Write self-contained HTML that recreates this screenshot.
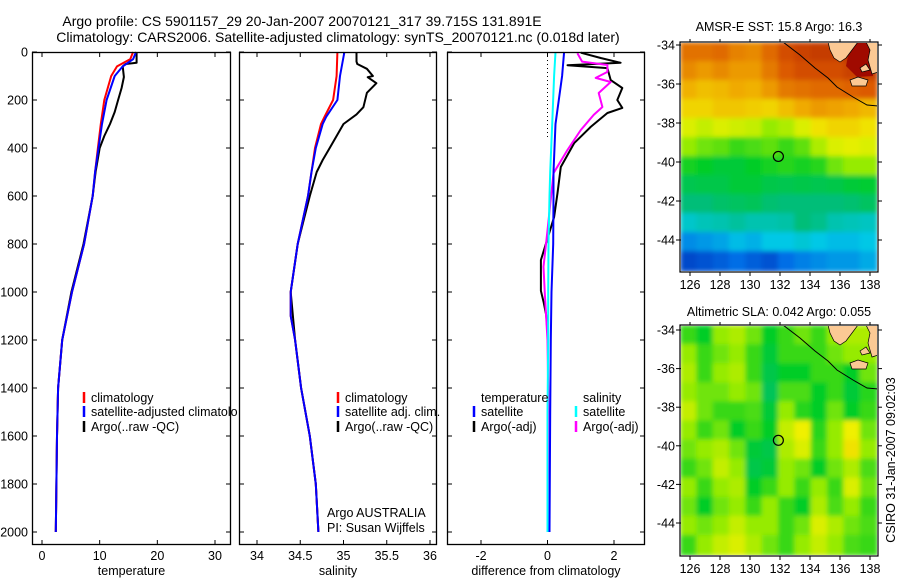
<!DOCTYPE html>
<html><head><meta charset="utf-8">
<style>
html,body{margin:0;padding:0;background:#fff;}
svg{display:block;font-family:"Liberation Sans",sans-serif;}
text{font-size:12.5px;fill:#000;}
.big{font-size:14px;}
</style></head>
<body>
<svg id="chart" width="900" height="580" viewBox="0 0 900 580" xmlns="http://www.w3.org/2000/svg">
<defs>
<clipPath id="cm1"><rect x="681" y="43" width="196" height="228"/></clipPath>
<clipPath id="cm2"><rect x="681" y="326" width="196" height="229"/></clipPath>
<filter id="sm" x="0" y="0" width="1" height="1"><feGaussianBlur stdDeviation="2.5"/></filter>
</defs>
<text class="big" x="302" y="26" text-anchor="middle">Argo profile: CS 5901157_29 20-Jan-2007 20070121_317 39.715S 131.891E</text>
<text class="big" x="338" y="42" text-anchor="middle">Climatology: CARS2006. Satellite-adjusted climatology: synTS_20070121.nc (0.018d later)</text>
<g id="layer"></g>
</svg>
<script>
// ---------- profile data ----------
const tempDepth = [0,30,60,100,200,300,400,500,600,800,1000,1200,1400,1600,1800,2000];
const tempClim  = [15.8,15.3,13,12,10.8,10.2,9.7,9.2,8.8,7.3,5.2,3.5,2.8,2.6,2.5,2.4];
const tempSat   = [16.3,15.8,14,12.6,11.2,10.4,9.8,9.2,8.8,7.3,5.2,3.5,2.8,2.6,2.5,2.4];
const argoTDepth = [0,45,50,60,104,150,200,250,300,350,400,500,600,800,1000,1200,1400,1600,1800,2000];
const argoTemp   = [16.4,16.4,14.5,14,14.2,13.8,13.2,12.6,11.8,10.8,10,9.3,8.8,7.2,5.1,3.5,2.8,2.6,2.5,2.4];

const salDepth = [0,100,200,270,300,400,500,600,800,1000,1100,1200,1400,1600,1800,2000];
const salClim  = [34.93,34.92,34.88,34.78,34.74,34.67,34.63,34.59,34.47,34.39,34.39,34.44,34.51,34.61,34.68,34.71];
const salSat   = [35.01,34.96,34.93,34.8,34.76,34.68,34.63,34.59,34.47,34.39,34.39,34.44,34.51,34.61,34.68,34.71];
const argoSDepth = [0,40,50,70,100,105,130,170,230,260,300,350,400,450,500,600,700,800,1000,1200,1400,1600,1800,2000];
const argoSal    = [35.15,35.15,35.16,35.27,35.34,35.28,35.38,35.27,35.23,35.15,35.0,34.92,34.84,34.76,34.69,34.61,34.54,34.47,34.39,34.44,34.51,34.61,34.68,34.71];

const diffDepth = [0,100,300,500,600,800,1000,1200,1500,2000];
const diffTSat  = [0.5,0.44,0.24,0.18,0.18,0.17,0.12,0.1,0.08,0.06];
const diffSSat  = [0.24,0.2,0.14,0.08,0.06,0.03,0.02,0.02,0.0,0.0];
const diffTArgoDepth = [3,25,45,55,67,117,150,200,233,254,312,380,479,588,688,867,995,1040,1096,1167];
const diffTArgo      = [1.0,1.6,2.2,0.6,1.8,1.9,2.25,2.1,2.25,1.8,1.3,0.8,0.4,0.3,0.2,-0.2,-0.2,-0.12,-0.04,0.0];
const diffSArgoDepth = [5,40,54,83,108,125,171,229,262,325,408,505,755,895,1005,1200,1500,2000];
const diffSArgo      = [0.9,1.04,1.8,1.8,1.45,1.9,1.54,1.65,1.39,1.0,0.6,0.18,-0.01,-0.12,-0.08,0.0,0.03,0.0];

const depthTicks = [0,200,400,600,800,1000,1200,1400,1600,1800,2000];
const tempTicks = [0,10,20,30];
const salTicks = [34,34.5,35,35.5,36];
const salTickLabels = ["34","34.5","35","35.5","36"];
const diffTicks = [-2,0,2];
const lonTicks = [126,128,130,132,134,136,138];
const latTicks = [-34,-36,-38,-40,-42,-44];

// ---------- map data (normalised colour index 0..1) ----------
const sstGrid = [
[0.85,0.85,0.86,0.83,0.82,0.86,0.9,0.92,0.93,0.93,0.95,0.95],
[0.82,0.8,0.82,0.8,0.8,0.84,0.88,0.9,0.9,0.9,0.92,0.93],
[0.77,0.75,0.76,0.78,0.77,0.8,0.84,0.85,0.86,0.86,0.87,0.88],
[0.72,0.72,0.74,0.74,0.73,0.72,0.75,0.78,0.8,0.79,0.78,0.76],
[0.66,0.64,0.66,0.65,0.64,0.6,0.62,0.66,0.7,0.72,0.72,0.7],
[0.6,0.58,0.57,0.55,0.56,0.57,0.55,0.57,0.62,0.66,0.67,0.66],
[0.53,0.52,0.5,0.5,0.52,0.53,0.54,0.53,0.54,0.58,0.6,0.6],
[0.47,0.48,0.48,0.5,0.5,0.48,0.47,0.48,0.47,0.48,0.5,0.51],
[0.42,0.42,0.44,0.45,0.46,0.43,0.42,0.42,0.42,0.42,0.43,0.45],
[0.33,0.35,0.36,0.38,0.36,0.36,0.37,0.42,0.4,0.36,0.35,0.34],
[0.2,0.22,0.24,0.28,0.26,0.3,0.3,0.32,0.3,0.28,0.28,0.3],
[0.08,0.1,0.12,0.15,0.12,0.1,0.15,0.18,0.2,0.22,0.22,0.25]];
const slaGrid = [
[.55,.52,.6,.62,.58,.52,.55,.58,.55,.6,.62,.62],
[.6,.55,.58,.6,.55,.5,.55,.55,.55,.58,.6,.6],
[.62,.55,.6,.62,.55,.48,.52,.52,.55,.55,.52,.58],
[.6,.58,.58,.6,.58,.46,.56,.56,.52,.55,.5,.54],
[.64,.58,.55,.55,.56,.5,.6,.54,.52,.58,.52,.55],
[.6,.55,.58,.52,.55,.52,.64,.68,.54,.6,.68,.58],
[.58,.6,.62,.58,.5,.48,.62,.66,.55,.6,.7,.6],
[.55,.58,.64,.6,.48,.5,.6,.58,.52,.58,.62,.56],
[.6,.55,.6,.62,.52,.55,.6,.55,.6,.55,.66,.58],
[.58,.52,.58,.6,.55,.6,.55,.52,.62,.56,.6,.55],
[.6,.58,.6,.64,.6,.6,.55,.58,.66,.62,.58,.56],
[.55,.6,.64,.66,.62,.58,.55,.6,.64,.6,.56,.55]];
const floatLon = 131.891;
const floatLat = -39.715;

// ---------- helpers ----------
const NS = "http://www.w3.org/2000/svg";
const layer = document.getElementById('layer');
function mk(tag, attrs, parent){
  const e = document.createElementNS(NS, tag);
  for (const k in attrs) e.setAttribute(k, attrs[k]);
  (parent||layer).appendChild(e);
  return e;
}
function txt(x,y,s,anchor,parent){
  const t = mk('text',{x:x,y:y,'text-anchor':anchor||'start'},parent);
  t.textContent = s; return t;
}
const yTop=52, yPerDbar=0.24;
function yD(d){ return yTop + d*yPerDbar; }
function lin(d0,d1,r0,r1){ return v => r0 + (v-d0)/(d1-d0)*(r1-r0); }

const panels = [
  {name:'temperature-panel', x0:32, x1:231, sx:lin(0,30,42,215), ticks:tempTicks, labels:tempTicks.map(String), title:'temperature'},
  {name:'salinity-panel', x0:239, x1:437, sx:lin(34,36,257,430), ticks:salTicks, labels:salTickLabels, title:'salinity'},
  {name:'difference-panel', x0:447, x1:645, sx:lin(-2,2,481,614), ticks:diffTicks, labels:diffTicks.map(String), title:'difference from climatology'}
];
const yB = 545;

function line(g, sx, depths, vals, color, name){
  const pts = depths.map((d,i)=> sx(vals[i]).toFixed(1)+','+yD(d).toFixed(1)).join(' ');
  const p = mk('polyline',{points:pts,fill:'none',stroke:color,'stroke-width':2,'stroke-linejoin':'round'},g);
  
  
}

panels.forEach((P,pi)=>{
  const g = mk('g',{});
  
  
  const bg = mk('rect',{x:P.x0,y:yTop,width:P.x1-P.x0,height:yB-yTop,fill:'#fff',stroke:'none'},g);
  
  
  depthTicks.forEach(d=>{
    mk('line',{x1:P.x0,x2:P.x0+5,y1:yD(d),y2:yD(d),stroke:'#000'},g);
    mk('line',{x1:P.x1,x2:P.x1-5,y1:yD(d),y2:yD(d),stroke:'#000'},g);
    if(pi===0){ const t=txt(28,yD(d)+4.5,String(d),'end',g);
      
       }
  });
  P.ticks.forEach((v,i)=>{
    const x=P.sx(v);
    mk('line',{x1:x,x2:x,y1:yB,y2:yB-5,stroke:'#000'},g);
    mk('line',{x1:x,x2:x,y1:yTop,y2:yTop+5,stroke:'#000'},g);
    const t=txt(x,yB+15,P.labels[i],'middle',g);
    
    
  });
  const tt = txt((P.x0+P.x1)/2,yB+30,P.title,'middle',g);
  
  
  P.g = g;
});

line(panels[0].g, panels[0].sx, argoTDepth, argoTemp, '#000', 'argo-temperature-line');
line(panels[0].g, panels[0].sx, tempDepth, tempClim, '#f00', 'climatology-temperature-line');
line(panels[0].g, panels[0].sx, tempDepth, tempSat, '#00f', 'satellite-temperature-line');
line(panels[1].g, panels[1].sx, argoSDepth, argoSal, '#000', 'argo-salinity-line');
line(panels[1].g, panels[1].sx, salDepth, salClim, '#f00', 'climatology-salinity-line');
line(panels[1].g, panels[1].sx, salDepth, salSat, '#00f', 'satellite-salinity-line');
const dz = mk('line',{x1:panels[2].sx(0),x2:panels[2].sx(0),y1:yTop,y2:yD(355),stroke:'#000','stroke-dasharray':'1,3'},panels[2].g);


line(panels[2].g, panels[2].sx, diffTArgoDepth, diffTArgo, '#000', 'argo-temperature-difference-line');
line(panels[2].g, panels[2].sx, diffSArgoDepth, diffSArgo, '#f0f', 'argo-salinity-difference-line');
line(panels[2].g, panels[2].sx, diffDepth, diffTSat, '#00f', 'satellite-temperature-difference-line');
line(panels[2].g, panels[2].sx, diffDepth, diffSSat, '#0ff', 'satellite-salinity-difference-line');
panels.forEach(P=>{
  const r = mk('rect',{x:P.x0+0.5,y:yTop+0.5,width:P.x1-P.x0-1,height:yB-yTop-1,fill:'none',stroke:'#000','stroke-width':1.3},P.g);
  
  
});

function legendRow(g,x,y,color,label){
  if(color) mk('line',{x1:x,x2:x,y1:y-10,y2:y+1,stroke:color,'stroke-width':2.5},g);
  const t=txt(x+7,y,label,'start',g);
  
  
}
const lg1 = mk('g',{});


legendRow(lg1,84,402,'#f00','climatology');
legendRow(lg1,84,416,'#00f','satellite-adjusted climatology');
legendRow(lg1,84,431,'#000','Argo(..raw -QC)');
lg1.setAttribute('clip-path','url(#clipLg1)');
const cp = mk('clipPath',{id:'clipLg1'},document.querySelector('defs'));
mk('rect',{x:0,y:0,width:238,height:580},cp);
panels[0].g.appendChild(lg1);

const lg2 = mk('g',{},panels[1].g);


legendRow(lg2,338,402,'#f00','climatology');
legendRow(lg2,338,416,'#00f','satellite adj. clim.');
legendRow(lg2,338,431,'#000','Argo(..raw -QC)');
const a1=txt(327,517,'Argo AUSTRALIA','start',panels[1].g);
 
const a2=txt(327,532,'PI: Susan Wijffels','start',panels[1].g);
 

const lg3 = mk('g',{},panels[2].g);


legendRow(lg3,474,402,null,'temperature');
legendRow(lg3,474,416,'#00f','satellite');
legendRow(lg3,474,431,'#000','Argo(-adj)');
legendRow(lg3,576,402,null,'salinity');
legendRow(lg3,576,416,'#0ff','satellite');
legendRow(lg3,576,431,'#f0f','Argo(-adj)');

// ---------- maps ----------
const cstops = [[0,[0,30,170]],[0.15,[0,110,230]],[0.3,[0,200,230]],[0.42,[0,190,120]],[0.52,[0,205,40]],[0.6,[150,235,0]],[0.68,[240,240,0]],[0.78,[240,170,0]],[0.88,[220,90,0]],[1,[165,20,0]]];
function cmap(v){
  for(let i=1;i<cstops.length;i++){
    if(v<=cstops[i][0]){
      const a=cstops[i-1],b=cstops[i],t=(v-a[0])/(b[0]-a[0]);
      const c=a[1].map((q,k)=>Math.round(q+(b[1][k]-q)*t));
      return 'rgb('+c.join(',')+')';
    }
  }
  return 'rgb(165,20,0)';
}
function drawMap(cfg){
  const g = mk('g',{});
  
  
  const sx = lin(126,138,690,870), sy = lin(-34,-44,cfg.y34,cfg.y44);
  const X0=681,X1=877,Y0=cfg.top,Y1=cfg.bot;
  const hm = mk('g',{'clip-path':'url(#'+cfg.clip+')'},g);
  const inner = mk('g',{filter:'url(#sm)'},hm);
  const rows=cfg.grid.length, cols=cfg.grid[0].length;
  const cw=(X1-X0)/cols, ch=(Y1-Y0)/rows;
  cfg.grid.forEach((row,r)=>row.forEach((v,c)=>{
    const cell = mk('rect',{x:(X0+c*cw-1).toFixed(1),y:(Y0+r*ch-1).toFixed(1),width:(cw+2).toFixed(1),height:(ch+2).toFixed(1),fill:cmap(v)},inner);
    
    
  }));
  const dy = Y0-43;
  const land = mk('g',{},hm);
  
  
  if(cfg.gulf) mk('polygon',{points:[[855,42],[870,42],[871,62],[873,76],[857,77],[846,66],[848,56]].map(p=>p[0]+','+(p[1]+dy)).join(' '),fill:'rgb(160,10,0)'},land);
  [[[828,42],[858,42],[852,50],[846,58],[840,62],[834,58],[830,50]],
   [[866,42],[878,42],[878,72],[872,74],[868,60],[870,50]],
   [[850,80],[858,77],[868,80],[866,86],[852,86]],
   [[860,68],[866,64],[870,70],[862,72]]].forEach(poly=>{
     mk('polygon',{points:poly.map(p=>p[0]+','+(p[1]+dy)).join(' '),fill:'#fbc994',stroke:'#000','stroke-width':0.7},land);
   });
  const coast = mk('polyline',{points:[[783,42],[800,55],[815,68],[828,78],[837,87],[853,97],[867,105],[878,106]].map(p=>p[0]+','+(p[1]+dy)).join(' '),fill:'none',stroke:'#000','stroke-width':1},hm);
  
  
  const mark = mk('circle',{cx:sx(floatLon),cy:sy(floatLat),r:5,fill:'none',stroke:'#000','stroke-width':1.2},g);
  
  
  const fr = mk('rect',{x:680,y:Y0-1,width:198,height:Y1-Y0+2,fill:'none',stroke:'#000','stroke-width':1.2},g);
  
  
  latTicks.forEach(l=>{
    const y=sy(l);
    mk('line',{x1:676,x2:681,y1:y,y2:y,stroke:'#000'},g);
    mk('line',{x1:878,x2:882,y1:y,y2:y,stroke:'#000'},g);
    const t=txt(675,y+4.5,String(l),'end',g);
    
    
  });
  lonTicks.forEach(l=>{
    const x=sx(l);
    mk('line',{x1:x,x2:x,y1:Y1+1,y2:Y1+5,stroke:'#000'},g);
    mk('line',{x1:x,x2:x,y1:Y0-1,y2:Y0-4,stroke:'#000'},g);
    const t=txt(x,Y1+18,String(l),'middle',g);
    
    
  });
  const tl=txt(779,cfg.titleY,cfg.title,'middle',g);
  
  
}
drawMap({name:'sst-map',grid:sstGrid,top:43,bot:271,y34:45,y44:240,clip:'cm1',gulf:true,title:'AMSR-E SST: 15.8 Argo: 16.3',titleY:31});
drawMap({name:'sla-map',grid:slaGrid,top:326,bot:555,y34:330,y44:523,clip:'cm2',gulf:false,title:'Altimetric SLA: 0.042 Argo: 0.055',titleY:316});

const stamp = txt(0,0,'CSIRO 31-Jan-2007 09:02:03','middle');
stamp.setAttribute('transform','translate(895,460) rotate(-90)');


</script>
</body></html>
